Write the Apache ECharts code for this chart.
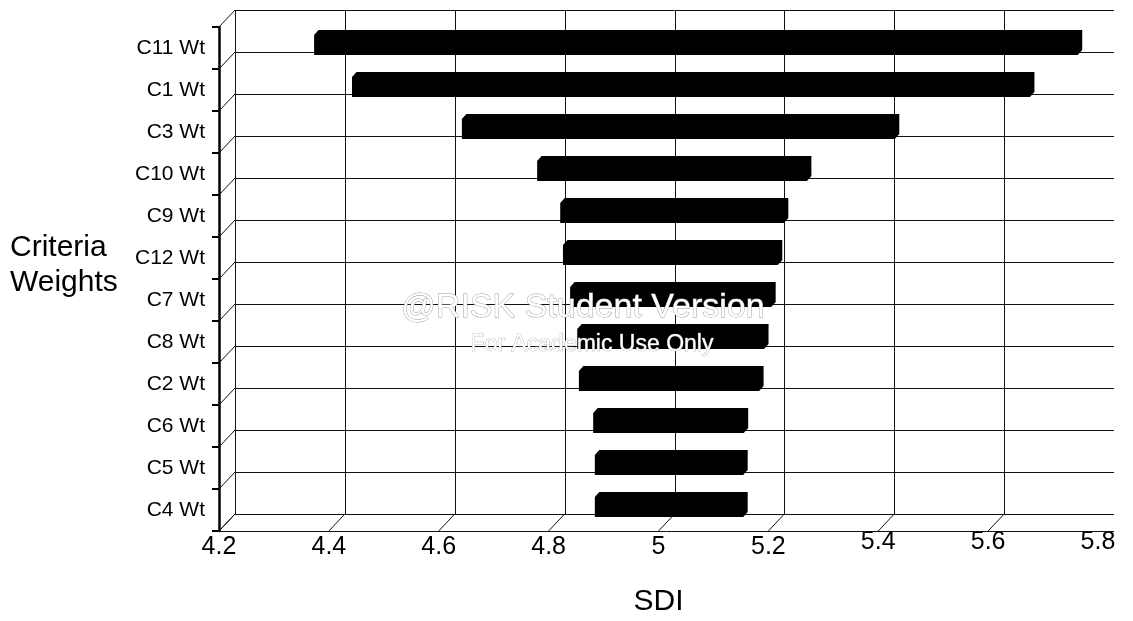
<!DOCTYPE html>
<html>
<head>
<meta charset="utf-8">
<script src="https://cdn.jsdelivr.net/npm/echarts@6/dist/echarts.min.js"></script>
<style>
  html, body { margin: 0; padding: 0; background: #fff; }
  #chart { width: 1133px; height: 621px; }
</style>
</head>
<body>
<div id="chart"></div>
<script>
// Tornado data: SDI range produced by each criteria weight (top = widest swing)
const categories = ['C11 Wt', 'C1 Wt', 'C3 Wt', 'C10 Wt', 'C9 Wt', 'C12 Wt', 'C7 Wt', 'C8 Wt', 'C2 Wt', 'C6 Wt', 'C5 Wt', 'C4 Wt'];
const lowValues  = [4.364, 4.433, 4.633, 4.770, 4.812, 4.817, 4.830, 4.843, 4.846, 4.872, 4.875, 4.875];
const highValues = [5.754, 5.667, 5.421, 5.261, 5.219, 5.208, 5.196, 5.183, 5.174, 5.146, 5.145, 5.145];
const xTicks      = [4.2, 4.4, 4.6, 4.8, 5.0, 5.2, 5.4, 5.6, 5.8];
const xTickLabels = ['4.2', '4.4', '4.6', '4.8', '5', '5.2', '5.4', '5.6', '5.8'];
// the last three tick labels sit a little higher than the rest
const raisedTicks = [5.4, 5.6, 5.8];

const FONT = '"Liberation Sans", Arial, sans-serif';
const X_MIN = xTicks[0], X_MAX = xTicks[xTicks.length - 1], X_STEP = 0.2;
// offset from the front plane (axes) to the back wall of the 3-D box
const DEPTH = [16, -17];

const chart = echarts.init(document.getElementById('chart'));

function bandInfo(api) {
  const c0 = api.coord([X_MIN, 0]);
  const c1 = api.coord([X_MIN, 1]);
  const band = c1[1] - c0[1];
  return { left: c0[0], top: c0[1] - band / 2, band: band };
}

const crisp = v => Math.round(v) + 0.5;

// back wall, side wall and floor of the 3-D box
function renderFrame(params, api) {
  const children = [];
  const line = (x1, y1, x2, y2, w) => children.push({
    type: 'line', shape: { x1, y1, x2, y2 },
    style: { stroke: '#111', lineWidth: w || 1 }
  });
  const b = bandInfo(api);
  const n = categories.length;
  const yTop = b.top, yBot = b.top + b.band * n;
  const xLeft = b.left, xRight = api.coord([X_MAX, 0])[0];

  xTicks.forEach((t, k) => {
    if (k === xTicks.length - 1) return;
    const fx = api.coord([t, 0])[0];
    const bx = crisp(fx + DEPTH[0]);
    line(bx, yTop + DEPTH[1], bx, yBot + DEPTH[1]);
    line(fx, yBot, fx + DEPTH[0], yBot + DEPTH[1]);
  });
  for (let i = 0; i <= n; i++) {
    const fy = yTop + b.band * i;
    const by = crisp(fy + DEPTH[1]);
    line(xLeft + DEPTH[0], by, xRight + DEPTH[0], by);
    line(xLeft, fy, xLeft + DEPTH[0], fy + DEPTH[1]);
  }
  line(xLeft, crisp(yBot), xRight + DEPTH[0], crisp(yBot));
  return { type: 'group', children: children };
}

// one bevelled 3-D bar from low to high value
function renderBar(params, api) {
  const idx = api.value(2);
  const a = api.coord([api.value(0), idx]);
  const z = api.coord([api.value(1), idx]);
  const b = bandInfo(api);
  const faceH = b.band * 0.48;
  const shiftX = 5, shiftY = -3;      // front face position inside the box
  const dx = 4.5, dy = -5;            // bar depth
  const x0 = a[0] + shiftX, x1 = z[0] + shiftX;
  const yT = a[1] + shiftY - faceH / 2, yB = yT + faceH;
  return {
    type: 'polygon',
    shape: { points: [[x0, yB], [x0, yT], [x0 + dx, yT + dy], [x1 + dx, yT + dy], [x1 + dx, yB + dy], [x1, yB]] },
    style: { fill: '#000' }
  };
}

const isRaised = v => raisedTicks.some(t => Math.abs(t - v) < 1e-6);
const tickLabel = v => {
  const k = xTicks.findIndex(t => Math.abs(t - v) < 1e-6);
  return k >= 0 ? xTickLabels[k] : '';
};

const xAxisBase = {
  type: 'value', min: X_MIN, max: X_MAX, interval: X_STEP, gridIndex: 0,
  axisLine: { show: false }, axisTick: { show: false }, splitLine: { show: false }
};
const xLabelStyle = { show: true, showMinLabel: true, showMaxLabel: true, fontSize: 25, color: '#000', fontFamily: FONT };

const option = {
  backgroundColor: '#fff',
  animation: false,
  textStyle: { fontFamily: FONT },
  title: {
    text: 'Criteria\nWeights',
    left: 10, top: 230, padding: 0,
    textStyle: { fontSize: 30, lineHeight: 35, fontWeight: 'normal', color: '#000', fontFamily: FONT }
  },
  grid: { left: 219, top: 27, right: 35, bottom: 90, containLabel: false, outerBoundsMode: 'none' },
  xAxis: [
    Object.assign({}, xAxisBase, {
      axisLabel: Object.assign({}, xLabelStyle, { margin: 4, formatter: v => isRaised(v) ? '' : tickLabel(v) }),
      name: 'SDI', nameLocation: 'middle', nameGap: 56,
      nameTextStyle: { fontSize: 30, color: '#000', fontFamily: FONT }
    }),
    Object.assign({}, xAxisBase, {
      position: 'bottom',
      axisLabel: Object.assign({}, xLabelStyle, { margin: -1, formatter: v => isRaised(v) ? tickLabel(v) : '' })
    })
  ],
  yAxis: {
    type: 'category', data: categories, inverse: true,
    axisLine: { show: true, lineStyle: { color: '#000', width: 2.5 } },
    axisTick: { show: true, length: 7, lineStyle: { color: '#000', width: 2 } },
    axisLabel: { fontSize: 21, color: '#000', margin: 14, fontFamily: FONT },
    splitLine: { show: false }
  },
  graphic: [
    {
      type: 'text', x: 583, y: 308, z: 100, silent: true,
      style: { text: '@RISK Student Version', align: 'center', verticalAlign: 'middle',
               font: '34px ' + FONT, fill: '#fff', stroke: '#9a9a9a', lineWidth: 0.9 }
    },
    {
      type: 'text', x: 592, y: 345, z: 100, silent: true,
      style: { text: 'For Academic Use Only', align: 'center', verticalAlign: 'middle',
               font: '23px ' + FONT, fill: '#fff', stroke: '#9a9a9a', lineWidth: 0.7 }
    }
  ],
  series: [
    {
      type: 'custom', name: 'frame', coordinateSystem: 'cartesian2d',
      clip: false, silent: true, z: 1,
      data: [[X_MIN, 0]],
      encode: { x: 0, y: 1 },
      renderItem: renderFrame
    },
    {
      type: 'custom', name: 'SDI range', coordinateSystem: 'cartesian2d',
      clip: false, z: 3,
      data: categories.map((c, i) => [lowValues[i], highValues[i], i]),
      encode: { x: [0, 1], y: 2 },
      renderItem: renderBar
    }
  ]
};

chart.setOption(option);
</script>
</body>
</html>
